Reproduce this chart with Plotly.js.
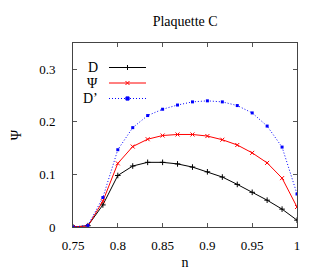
<!DOCTYPE html>
<html><head><meta charset="utf-8">
<script src="https://cdn.plot.ly/plotly-3.0.1.min.js"></script>
<style>html,body{margin:0;padding:0;background:#fff}#c{width:322px;height:270px}</style>
</head><body><div id="c"></div>
<script>
const n = [0.75, 0.766667, 0.783333, 0.8, 0.816667, 0.833333, 0.85, 0.866667, 0.883333, 0.9, 0.916667, 0.933333, 0.95, 0.966667, 0.983333, 1.0];
const D = [0, 0.0025, 0.042, 0.098, 0.116, 0.123, 0.123, 0.120, 0.114, 0.105, 0.095, 0.081, 0.066, 0.051, 0.034, 0.013];
const Psi = [0, 0.002, 0.049, 0.121, 0.153, 0.167, 0.174, 0.176, 0.176, 0.173, 0.166, 0.156, 0.141, 0.122, 0.093, 0.038];
const Dp = [0, 0.003, 0.056, 0.147, 0.189, 0.212, 0.224, 0.232, 0.238, 0.240, 0.238, 0.231, 0.217, 0.192, 0.152, 0.063];
const names = ["D", "Ψ", "D’"];
const colors = ["#000000", "#ff0000", "#0000ff"];
const xTicks = [0.75, 0.8, 0.85, 0.9, 0.95, 1];
const xTickText = ["0.75", "0.8", "0.85", "0.9", "0.95", "1"];
const yTicks = [0, 0.1, 0.2, 0.3];
const yTickText = ["0", "0.1", "0.2", "0.3"];

const F = "'Liberation Serif', 'Times New Roman', serif";
const traces = [
  {x: n, y: D, mode: "lines+markers", name: names[0], line: {color: colors[0], width: 1},
   marker: {symbol: "cross-thin", size: 4, line: {color: colors[0], width: 1}}},
  {x: n, y: Psi, mode: "lines+markers", name: names[1], line: {color: colors[1], width: 1},
   marker: {symbol: "x-thin", size: 4, line: {color: colors[1], width: 1}}},
  {x: n, y: Dp, mode: "lines+markers", name: names[2], line: {color: colors[2], width: 1, dash: "1px,2px"},
   marker: {symbol: "square", size: 3, color: colors[2]}}
];

// legend key drawn gnuplot-style: text right-aligned, sample to the right
const rowY = [0.8668, 0.7826, 0.6984];
const sx = 0.2433;
const markerPaths = [
  "M-2.5,0H2.5M0,-2.5V2.5",
  "M-2,-2L2,2M-2,2L2,-2",
  "M-1.6,-1.6H1.6V1.6H-1.6Z"
];
const shapes = [];
names.forEach((t, i) => {
  shapes.push({type: "line", xref: "paper", yref: "paper", xsizemode: "pixel", xanchor: sx,
    x0: -18.5, x1: 18.5, y0: rowY[i], y1: rowY[i],
    line: {color: colors[i], width: 1, dash: i === 2 ? "1px,2px" : "solid"}});
  shapes.push({type: "path", xref: "paper", yref: "paper", xsizemode: "pixel", ysizemode: "pixel",
    xanchor: sx, yanchor: rowY[i], path: markerPaths[i],
    fillcolor: i === 2 ? colors[i] : "rgba(0,0,0,0)", line: {color: colors[i], width: 1}});
});

const layout = {
  width: 322, height: 270,
  margin: {l: 73, r: 25, t: 43, b: 43},
  paper_bgcolor: "#fff", plot_bgcolor: "#fff",
  font: {family: F, size: 13, color: "#000"},
  title: {text: "Plaquette C", x: 0.575, xanchor: "center", y: 0.922, yanchor: "middle", font: {family: F, size: 14}},
  xaxis: {range: [0.75, 1], tickvals: xTicks, ticktext: xTickText, ticks: "inside", ticklen: 4,
          tickcolor: "#555", linecolor: "#444", linewidth: 1, mirror: "ticks", showline: true,
          showgrid: false, zeroline: false, ticklabelstandoff: 6,
          title: {text: "n", font: {family: F, size: 14}, standoff: 10}},
  yaxis: {range: [0, 0.35], tickvals: yTicks, ticktext: yTickText, ticks: "inside", ticklen: 4,
          tickcolor: "#555", linecolor: "#444", linewidth: 1, mirror: "ticks", showline: true,
          showgrid: false, zeroline: false, ticklabelstandoff: 14,
          title: {text: "Ψ", font: {family: F, size: 14}, standoff: 14}},
  showlegend: false,
  hovermode: false,
  shapes: shapes,
  annotations: names.map((t, i) => ({text: t, xref: "paper", yref: "paper", x: 0.122, xanchor: "right",
           y: rowY[i], yanchor: "middle", showarrow: false, font: {family: F, size: 14}}))
};
Plotly.newPlot("c", traces, layout, {displayModeBar: false, staticPlot: true});
</script></body></html>
